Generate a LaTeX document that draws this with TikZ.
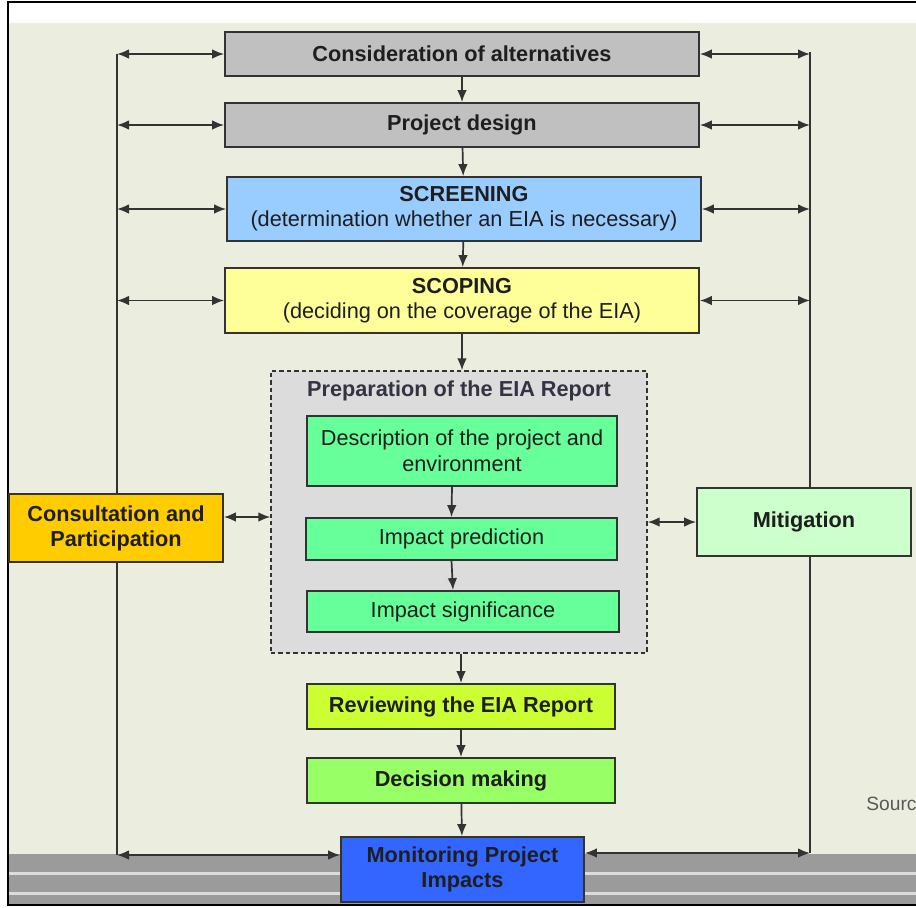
\documentclass[tikz,border=0pt]{standalone}
\usepackage{fontspec}
\setmainfont{Liberation Sans}
\usetikzlibrary{arrows.meta}
\definecolor{bgbeige}{HTML}{EBEDDF}
\definecolor{band}{HTML}{9B9B9B}
\definecolor{bandline}{HTML}{DCDCDC}
\definecolor{edge}{HTML}{333333}
\definecolor{txt}{HTML}{1E1E1E}
\definecolor{altgrey}{HTML}{C0C0C0}
\definecolor{screenblue}{HTML}{99CCFF}
\definecolor{scopeyellow}{HTML}{FFFF99}
\definecolor{prepgrey}{HTML}{DCDCDC}
\definecolor{stepgreen}{HTML}{66FF99}
\definecolor{consorange}{HTML}{FFCC00}
\definecolor{mitgreen}{HTML}{CCFFCC}
\definecolor{reviewlime}{HTML}{CCFF33}
\definecolor{decgreen}{HTML}{99FF66}
\definecolor{monblue}{HTML}{3366FF}
\definecolor{titleslate}{HTML}{333344}
\begin{document}
\begin{tikzpicture}[x=0.5pt,y=-0.5pt,
  box/.style={draw=edge, line width=0.9pt, inner sep=0pt, align=center, text=txt,
    font=\fontsize{10.85}{12.5}\selectfont\bfseries},
  plainbox/.style={box, font=\fontsize{10.85}{13}\selectfont},
  conn/.style={draw=edge, line width=0.85pt},
  dn/.style={conn, -{Latex[length=6pt,width=4.8pt]}},
  dbl/.style={conn, {Latex[length=6pt,width=4.8pt]}-{Latex[length=6pt,width=4.8pt]}}]
\useasboundingbox (0,0) rectangle (916,907);
% background
\fill[white] (0,0) rectangle (916,907);
\fill[bgbeige] (9,23) rectangle (916,854);
\fill[band] (9,854) rectangle (916,905);
\fill[bandline] (9,872) rectangle (916,875);
\fill[bandline] (9,892) rectangle (916,895);
\draw[black, line width=1.2pt] (930,2) -- (8,2) -- (8,905) -- (930,905);
% side lines
\coordinate (Ltop) at (117,54);
\coordinate (Lbot) at (117,855);
\coordinate (Rtop) at (810,52);
\coordinate (Rbot) at (810,853);
\coordinate (cy) at (0,517);
\draw[conn] (Ltop) -- (Lbot);
\draw[conn] (Rtop) -- (Rbot);
% main boxes
\node[box, fill=altgrey, minimum width=237pt, minimum height=22pt] (alt) at (462,54) {Consideration of alternatives};
\node[box, fill=altgrey, minimum width=237pt, minimum height=22pt] (des) at (462,125) {Project design};
\node[box, fill=screenblue, minimum width=237pt, minimum height=32pt] (scr) at (464,209) {SCREENING\\\mdseries(determination whether an EIA is necessary)};
\node[box, fill=scopeyellow, minimum width=237pt, minimum height=32.5pt] (sco) at (462,300.5) {SCOPING\\\mdseries(deciding on the coverage of the EIA)};
\node[draw=edge, line width=0.7pt, dash pattern=on 2.2pt off 1.5pt, fill=prepgrey, inner sep=0pt, minimum width=188pt, minimum height=141pt] (prep) at (459,512) {};
\node[text=titleslate, font=\fontsize{10.85}{13}\selectfont\bfseries] (preptitle) at (459,391) {Preparation of the EIA Report};
\node[plainbox, fill=stepgreen, minimum width=155pt, minimum height=35pt] (desc) at (462,451) {Description of the project and\\environment};
\node[plainbox, fill=stepgreen, minimum width=155.5pt, minimum height=21pt] (pred) at (461.5,539) {Impact prediction};
\node[plainbox, fill=stepgreen, minimum width=156pt, minimum height=20.5pt] (sig) at (463,611.5) {Impact significance};
\node[box, fill=consorange, minimum width=107pt, minimum height=34pt] (cons) at (116,528) {Consultation and\\Participation};
\node[box, fill=mitgreen, minimum width=107pt, minimum height=34pt] (mit) at (804,522) {Mitigation};
\node[box, fill=reviewlime, minimum width=154pt, minimum height=22.5pt] (rev) at (461,706.5) {Reviewing the EIA Report};
\node[box, fill=decgreen, minimum width=154pt, minimum height=22.5pt] (dec) at (461,780.5) {Decision making};
\node[box, fill=monblue, minimum width=121.5pt, minimum height=32.5pt] (mon) at (462.5,869.5) {Monitoring Project\\Impacts};
\node[text=black!65, font=\fontsize{9.6}{11}\selectfont, anchor=west, inner sep=0pt] (src) at (866,804) {Source};
% vertical flow
\draw[dn] (alt) -- (des);
\draw[dn] (des) -- (scr);
\draw[dn] (scr) -- (sco);
\draw[dn] (sco.south) -- (sco.south |- prep.north);
\draw[dn] ([xshift=-5pt]desc.south) -- ([xshift=-5pt]pred.north);
\draw[dn] ([xshift=-5pt]pred.south) -- ([xshift=-5pt]sig.north);
\draw[dn] (prep.south -| rev.north) -- (rev.north);
\draw[dn] (rev) -- (dec);
\draw[dn] (dec) -- (mon);
% side arrows
\draw[dbl] (Ltop |- alt.west) -- (alt.west);
\draw[dbl] (Ltop |- des.west) -- (des.west);
\draw[dbl] (Ltop |- scr.west) -- (scr.west);
\draw[dbl] (Ltop |- sco.west) -- (sco.west);
\draw[dbl] (alt.east) -- (Rtop |- alt.east);
\draw[dbl] (des.east) -- (Rtop |- des.east);
\draw[dbl] (scr.east) -- (Rtop |- scr.east);
\draw[dbl] (sco.east) -- (Rtop |- sco.east);
\draw[dbl] (Lbot) -- (Lbot -| mon.west);
\draw[dbl] (mon.east |- Rbot) -- (Rbot);
\draw[dbl] (cons.east |- cy) -- (prep.west |- cy);
\draw[dbl] (prep.east |- mit.west) -- (mit.west);
\end{tikzpicture}
\end{document}
